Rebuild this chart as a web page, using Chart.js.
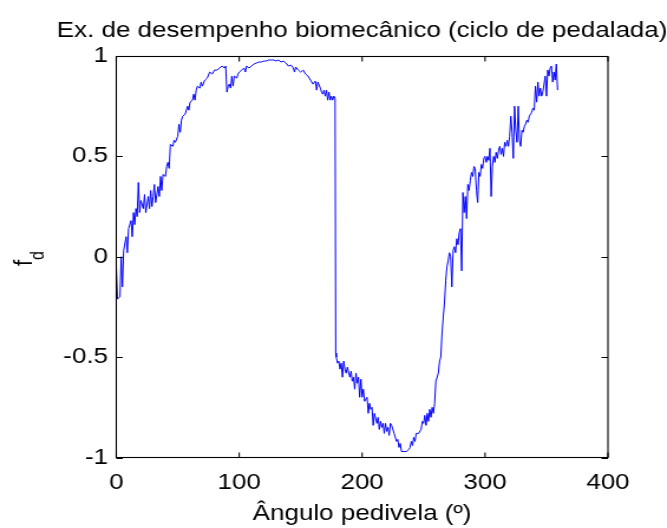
<!DOCTYPE html>
<html>
<head>
<meta charset="utf-8">
<script src="https://cdn.jsdelivr.net/npm/chart.js@4/dist/chart.umd.min.js"></script>
<style>
  html, body { margin: 0; padding: 0; background: #ffffff; overflow: hidden; }
  #wrap { position: absolute; left: 0; top: 0; width: 565px; height: 528px; transform: scaleX(1.1805); transform-origin: 0 0; }
  #c { display: block; }
</style>
</head>
<body>
<div id="wrap"><canvas id="c" width="565" height="528"></canvas></div>
<script>
// ---- data ----
const angles = [
  0, 1, 3, 4, 5, 6, 8, 9, 10, 12,
  13, 14, 15, 16, 17, 18, 19, 20, 22, 23,
  24, 26, 27, 28, 29, 30, 31, 32, 34, 35,
  36, 37, 38, 40, 41, 42, 43, 44, 46, 47,
  48, 50, 51, 52, 53, 54, 56, 58, 59, 60,
  62, 63, 64, 65, 66, 68, 69, 70, 72, 74,
  76, 78, 80, 82, 84, 86, 88, 89, 90, 91,
  92, 93, 94, 95, 96, 98, 99, 100, 102, 104,
  105, 106, 108, 110, 112, 114, 116, 118, 120, 122,
  124, 126, 128, 130, 132, 134, 136, 138, 140, 142,
  144, 145, 146, 148, 150, 152, 154, 156, 158, 160,
  162, 163, 164, 166, 167, 168, 169, 170, 171, 172,
  173, 174, 175, 176, 177, 178, 178.5, 179, 180, 181,
  182, 183, 184, 185, 186, 187, 188, 190, 191, 192,
  193, 194, 195, 196, 197, 198, 199, 200, 201, 202,
  204, 205, 206, 207, 208, 209, 210, 212, 213, 214,
  215, 216, 217, 218, 219, 220, 221, 222, 223, 224,
  226, 228, 229, 230, 231, 232, 234, 236, 238, 239,
  240, 241, 242, 243, 244, 246, 248, 249, 250, 251,
  252, 253, 254, 255, 256, 257, 258, 259, 260, 262,
  263, 264, 265, 266, 267, 268, 269, 270, 271, 272,
  273, 274, 275, 276, 277, 278, 279, 280, 281, 282,
  283, 284, 285, 286, 287, 288, 289, 290, 291, 292,
  293, 294, 295, 296, 297, 298, 299, 300, 301, 302,
  303, 304, 305, 306, 307, 308, 309, 310, 311, 312,
  313, 314, 315, 316, 317, 318, 319, 320, 321, 322,
  323, 324, 325, 326, 327, 328, 329, 330, 331, 332,
  333, 334, 335, 336, 337, 338, 339, 340, 341, 342,
  343, 344, 345, 346, 347, 348, 349, 350, 351, 352,
  353, 354, 355, 356, 357, 358, 359
];
const fd = [
  -0.05, -0.21, -0.20, 0.00, -0.15, 0.03, 0.10, 0.02, 0.14, 0.18,
  0.10, 0.22, 0.16, 0.24, 0.20, 0.37, 0.22, 0.28, 0.24, 0.31,
  0.22, 0.30, 0.24, 0.33, 0.25, 0.30, 0.36, 0.27, 0.35, 0.30,
  0.40, 0.33, 0.41, 0.40, 0.45, 0.47, 0.44, 0.56, 0.55, 0.58,
  0.57, 0.60, 0.66, 0.62, 0.68, 0.70, 0.71, 0.75, 0.73, 0.77,
  0.78, 0.81, 0.78, 0.83, 0.85, 0.84, 0.87, 0.85, 0.88, 0.89,
  0.92, 0.91, 0.93, 0.93, 0.94, 0.95, 0.94, 0.95, 0.82, 0.85,
  0.86, 0.84, 0.90, 0.85, 0.90, 0.89, 0.91, 0.92, 0.93, 0.94,
  0.92, 0.95, 0.94, 0.95, 0.96, 0.965, 0.97, 0.97, 0.975, 0.975,
  0.98, 0.98, 0.98, 0.975, 0.98, 0.97, 0.975, 0.965, 0.95, 0.955,
  0.94, 0.92, 0.945, 0.93, 0.92, 0.93, 0.91, 0.90, 0.88, 0.86,
  0.875, 0.83, 0.87, 0.84, 0.82, 0.81, 0.83, 0.80, 0.83, 0.78,
  0.82, 0.78, 0.80, 0.78, 0.80, 0.79, -0.48, -0.50, -0.53, -0.52,
  -0.56, -0.53, -0.60, -0.52, -0.56, -0.58, -0.55, -0.60, -0.57, -0.62,
  -0.60, -0.66, -0.58, -0.63, -0.60, -0.70, -0.61, -0.70, -0.66, -0.72,
  -0.70, -0.78, -0.73, -0.76, -0.75, -0.84, -0.78, -0.83, -0.80, -0.86,
  -0.82, -0.85, -0.83, -0.88, -0.83, -0.87, -0.85, -0.89, -0.83, -0.84,
  -0.88, -0.92, -0.91, -0.95, -0.93, -0.97, -0.97, -0.97, -0.96, -0.95,
  -0.92, -0.94, -0.90, -0.92, -0.88, -0.88, -0.86, -0.82, -0.83, -0.79,
  -0.84, -0.78, -0.82, -0.76, -0.80, -0.75, -0.78, -0.73, -0.62, -0.58,
  -0.52, -0.50, -0.38, -0.30, -0.23, -0.12, -0.05, -0.02, 0.02, 0.00,
  -0.15, 0.03, 0.05, 0.02, 0.09, 0.06, 0.12, 0.14, -0.07, 0.32,
  0.22, 0.30, 0.19, 0.36, 0.33, 0.38, 0.42, 0.40, 0.45, 0.44,
  0.33, 0.27, 0.42, 0.40, 0.46, 0.44, 0.49, 0.50, 0.47, 0.50,
  0.48, 0.54, 0.30, 0.45, 0.50, 0.47, 0.52, 0.49, 0.53, 0.55,
  0.51, 0.54, 0.50, 0.57, 0.55, 0.58, 0.55, 0.60, 0.70, 0.62,
  0.49, 0.75, 0.63, 0.57, 0.75, 0.58, 0.55, 0.63, 0.62, 0.65,
  0.66, 0.68, 0.67, 0.70, 0.71, 0.72, 0.74, 0.73, 0.85, 0.77,
  0.87, 0.80, 0.84, 0.80, 0.82, 0.86, 0.90, 0.80, 0.93, 0.90,
  0.94, 0.95, 0.87, 0.92, 0.88, 0.96, 0.83
];
const xTicks = [0, 100, 200, 300, 400];
const xTickLabels = ['0', '100', '200', '300', '400'];
const yTicks = [-1, -0.5, 0, 0.5, 1];
const yTickLabels = ['-1', '-0.5', '0', '0.5', '1'];
const chartTitle = 'Ex. de desempenho biomecânico (ciclo de pedalada)';
const xTitle = 'Ângulo pedivela (º)';
const yTitleMain = 'f';
const yTitleSub = 'd';

// ---- build ----
const FONT = "'Liberation Sans', Arial, sans-serif";
Chart.defaults.color = '#000000';
Chart.defaults.font.family = FONT;

const points = angles.map((a, i) => ({ x: a, y: fd[i] }));

const boxPlugin = {
  id: 'matlabBox',
  afterDraw(chart) {
    const { ctx, chartArea: a } = chart;
    const xs = chart.scales.x, ys = chart.scales.y;
    const top = Math.round(a.top) + 0.5, bottom = Math.round(a.bottom) - 0.5;
    ctx.save();
    ctx.strokeStyle = '#000000';
    ctx.lineWidth = 1.1;
    ctx.strokeRect(a.left, top, a.right - a.left, bottom - top);
    ctx.beginPath();
    const tlx = 5, tly = 5.5;
    xTicks.forEach(v => {
      const px = xs.getPixelForValue(v);
      ctx.moveTo(px, bottom); ctx.lineTo(px, bottom - tlx);
      ctx.moveTo(px, top); ctx.lineTo(px, top + tlx);
    });
    yTicks.forEach(v => {
      const py = Math.round(ys.getPixelForValue(v)) + 0.5;
      ctx.moveTo(a.left, py); ctx.lineTo(a.left + tly, py);
      ctx.moveTo(a.right, py); ctx.lineTo(a.right - tly, py);
    });
    ctx.stroke();
    ctx.fillStyle = '#000000';
    // main title, centred over the plot area
    ctx.font = '22px ' + FONT;
    ctx.textAlign = 'center';
    ctx.textBaseline = 'alphabetic';
    ctx.fillText(chartTitle, (a.left + a.right) / 2, 36.7);
    // y axis title: f with subscript d, rotated
    ctx.translate(27, 266);
    ctx.rotate(-Math.PI / 2);
    ctx.textAlign = 'left';
    ctx.fillText(yTitleMain, 0, 0);
    const fw = ctx.measureText(yTitleMain).width;
    ctx.font = '16px ' + FONT;
    ctx.fillText(yTitleSub, fw, 9.5);
    ctx.restore();
  }
};

new Chart(document.getElementById('c'), {
  type: 'line',
  data: {
    datasets: [{
      data: points,
      borderColor: '#0000ff',
      borderWidth: 1,
      pointRadius: 0,
      tension: 0,
      fill: false
    }]
  },
  options: {
    responsive: false,
    devicePixelRatio: 1,
    animation: false,
    events: [],
    layout: { padding: { left: 0, right: 50, top: 56, bottom: 0 } },
    plugins: {
      legend: { display: false },
      tooltip: { enabled: false },
      title: { display: false }
    },
    scales: {
      x: {
        type: 'linear',
        min: 0, max: 400,
        grid: { display: false, drawTicks: false },
        border: { display: false },
        afterBuildTicks: s => { s.ticks = xTicks.map(v => ({ value: v })); },
        afterFit: s => { s.height = 70.5; },
        ticks: {
          padding: 12,
          maxRotation: 0,
          autoSkip: false,
          color: '#000000',
          font: { family: FONT, size: 22 },
          callback: (v, i) => xTickLabels[i]
        },
        title: {
          display: true,
          text: xTitle,
          color: '#000000',
          font: { family: FONT, size: 22, lineHeight: 1.2 },
          padding: { top: 0, bottom: 1 }
        }
      },
      y: {
        type: 'linear',
        min: -1, max: 1,
        grid: { display: false, drawTicks: false },
        border: { display: false },
        afterBuildTicks: s => { s.ticks = yTicks.map(v => ({ value: v })); },
        afterFit: s => { s.width = 98.5; },
        ticks: {
          padding: 7,
          autoSkip: false,
          color: '#000000',
          font: { family: FONT, size: 22 },
          callback: (v, i) => yTickLabels[i]
        }
      }
    }
  },
  plugins: [boxPlugin]
});
</script>
</body>
</html>
